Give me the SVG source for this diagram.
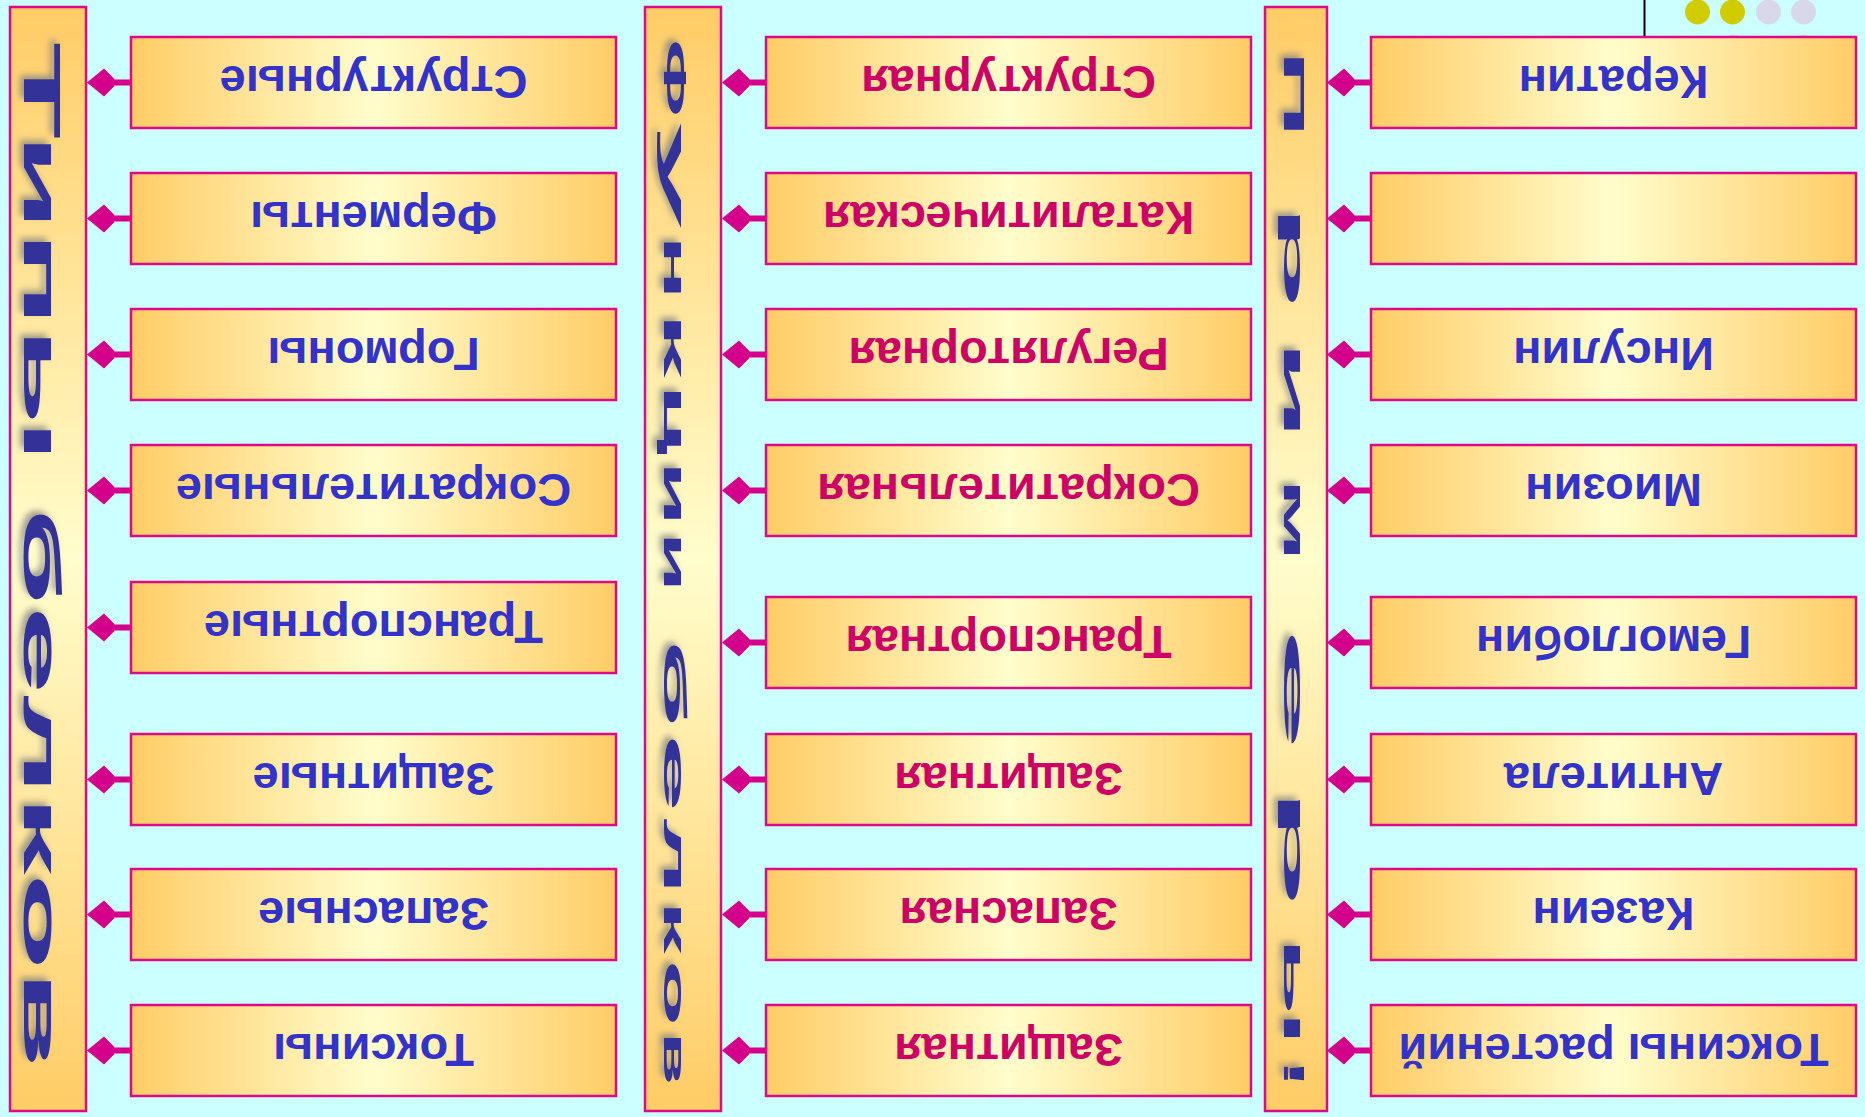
<svg xmlns="http://www.w3.org/2000/svg" width="1865" height="1117" viewBox="0 0 1865 1117">
<style>
.box{fill:url(#gh);stroke:#DD0A88;stroke-width:2.5}
.bar{fill:url(#gv);stroke:#DD0A88;stroke-width:2.5}
.t{font-family:"Liberation Sans",Arial,sans-serif;font-weight:bold;font-size:47px;text-anchor:middle}
.blue{fill:#3333CC}
.red{fill:#CC0066}
.vt{font-family:"Liberation Sans",Arial,sans-serif;font-weight:bold;fill:#333399}
.vm{font-size:32px}
.vr{font-size:30px}
.dia{fill:#D4008C}
</style>
<defs>
<linearGradient id="gh" x1="0" y1="0" x2="1" y2="0">
<stop offset="0" stop-color="#FFCC66"/>
<stop offset="0.5" stop-color="#FFFDCC"/>
<stop offset="1" stop-color="#FFCC66"/>
</linearGradient>
<linearGradient id="gv" x1="0" y1="0" x2="0" y2="1">
<stop offset="0" stop-color="#FFCC66"/>
<stop offset="0.5" stop-color="#FFFDCC"/>
<stop offset="1" stop-color="#FFCC66"/>
</linearGradient>
<filter id="sh" x="-0.5" y="-0.1" width="2" height="1.2">
<feDropShadow dx="-4" dy="-4" stdDeviation="3" flood-color="#7a7a7a" flood-opacity="0.7"/>
</filter>
<g id="dm"><path class="dia" d="M0,0 L17,-14 L28,-3 L27,-3 L27,3 L28,3 L17,14 Z"/></g>
</defs>
<rect width="1865" height="1117" fill="#CCFFFF"/>
<g id="decor">
<circle cx="1733" cy="47" r="12.5" fill="#D8D8EA"/>
<circle cx="1803" cy="47" r="12.5" fill="#D8D8EA"/>
<ellipse cx="1697.5" cy="12" rx="12.5" ry="12.5" fill="#D0CC00"/>
<ellipse cx="1732.5" cy="12" rx="12.5" ry="12.5" fill="#D0CC00"/>
<ellipse cx="1768.5" cy="12" rx="12.5" ry="12.5" fill="#D8D8EA"/>
<ellipse cx="1803.5" cy="12" rx="12.5" ry="12.5" fill="#D8D8EA"/>
<line x1="1644.5" y1="0" x2="1644.5" y2="37" stroke="#000" stroke-width="2"/>
</g>
<g id="bar-types">
<rect class="bar" x="10" y="7" width="76" height="1104"/>
<g filter="url(#sh)"><text class="vt" transform="translate(24,42) rotate(90)" x="0" y="0" font-size="52" textLength="1026" lengthAdjust="spacingAndGlyphs">Типы белков</text></g>
</g>
<g id="bar-functions">
<rect class="bar" x="645" y="7" width="76" height="1104"/>
<g filter="url(#sh)" class="vt vm">
<text transform="translate(664,39) rotate(90)" textLength="78" lengthAdjust="spacingAndGlyphs">Ф</text>
<text transform="translate(664,122) rotate(90)" textLength="107" lengthAdjust="spacingAndGlyphs">у</text>
<text transform="translate(664,235) rotate(90)" textLength="65" lengthAdjust="spacingAndGlyphs">н</text>
<text transform="translate(664,312) rotate(90)" textLength="66" lengthAdjust="spacingAndGlyphs">к</text>
<text transform="translate(664,384) rotate(90)" textLength="71" lengthAdjust="spacingAndGlyphs">ц</text>
<text transform="translate(664,461) rotate(90)" textLength="65" lengthAdjust="spacingAndGlyphs">и</text>
<text transform="translate(664,532) rotate(90)" textLength="60" lengthAdjust="spacingAndGlyphs">и</text>
<text transform="translate(664,639) rotate(90)" textLength="89" lengthAdjust="spacingAndGlyphs">б</text>
<text transform="translate(664,734) rotate(90)" textLength="78" lengthAdjust="spacingAndGlyphs">е</text>
<text transform="translate(664,818) rotate(90)" textLength="77" lengthAdjust="spacingAndGlyphs">л</text>
<text transform="translate(664,901) rotate(90)" textLength="53" lengthAdjust="spacingAndGlyphs">к</text>
<text transform="translate(664,960) rotate(90)" textLength="66" lengthAdjust="spacingAndGlyphs">о</text>
<text transform="translate(664,1032) rotate(90)" textLength="53" lengthAdjust="spacingAndGlyphs">в</text>
</g>
</g>
<g id="bar-examples">
<rect class="bar" x="1265" y="7" width="62" height="1104"/>
<g filter="url(#sh)" class="vt vr">
<text transform="translate(1284,50) rotate(90)" textLength="88" lengthAdjust="spacingAndGlyphs">П</text>
<text transform="translate(1284,204) rotate(90)" textLength="105" lengthAdjust="spacingAndGlyphs">р</text>
<text transform="translate(1284,339) rotate(90)" textLength="102" lengthAdjust="spacingAndGlyphs">и</text>
<text transform="translate(1284,478) rotate(90)" textLength="84" lengthAdjust="spacingAndGlyphs">м</text>
<text transform="translate(1284,627) rotate(90)" textLength="124" lengthAdjust="spacingAndGlyphs">е</text>
<text transform="translate(1284,787) rotate(90)" textLength="121" lengthAdjust="spacingAndGlyphs">р</text>
<text transform="translate(1284,937) rotate(90)" textLength="109" lengthAdjust="spacingAndGlyphs">ы</text>
<text transform="translate(1284,1058) rotate(90)" textLength="31" lengthAdjust="spacingAndGlyphs">!</text>
</g>
</g>
<g id="connectors">
<use href="#dm" x="87" y="82.5"/><rect class="dia" x="112" y="79.5" width="20" height="6"/>
<use href="#dm" x="87" y="218.5"/><rect class="dia" x="112" y="215.5" width="20" height="6"/>
<use href="#dm" x="87" y="354.5"/><rect class="dia" x="112" y="351.5" width="20" height="6"/>
<use href="#dm" x="87" y="490.5"/><rect class="dia" x="112" y="487.5" width="20" height="6"/>
<use href="#dm" x="87" y="627.5"/><rect class="dia" x="112" y="624.5" width="20" height="6"/>
<use href="#dm" x="87" y="779.5"/><rect class="dia" x="112" y="776.5" width="20" height="6"/>
<use href="#dm" x="87" y="914.5"/><rect class="dia" x="112" y="911.5" width="20" height="6"/>
<use href="#dm" x="87" y="1050.5"/><rect class="dia" x="112" y="1047.5" width="20" height="6"/>
<use href="#dm" x="722" y="82.5"/><rect class="dia" x="747" y="79.5" width="20" height="6"/>
<use href="#dm" x="722" y="218.5"/><rect class="dia" x="747" y="215.5" width="20" height="6"/>
<use href="#dm" x="722" y="354.5"/><rect class="dia" x="747" y="351.5" width="20" height="6"/>
<use href="#dm" x="722" y="490.5"/><rect class="dia" x="747" y="487.5" width="20" height="6"/>
<use href="#dm" x="722" y="642.5"/><rect class="dia" x="747" y="639.5" width="20" height="6"/>
<use href="#dm" x="722" y="779.5"/><rect class="dia" x="747" y="776.5" width="20" height="6"/>
<use href="#dm" x="722" y="914.5"/><rect class="dia" x="747" y="911.5" width="20" height="6"/>
<use href="#dm" x="722" y="1050.5"/><rect class="dia" x="747" y="1047.5" width="20" height="6"/>
<use href="#dm" x="1327" y="82.5"/><rect class="dia" x="1352" y="79.5" width="20" height="6"/>
<use href="#dm" x="1327" y="218.5"/><rect class="dia" x="1352" y="215.5" width="20" height="6"/>
<use href="#dm" x="1327" y="354.5"/><rect class="dia" x="1352" y="351.5" width="20" height="6"/>
<use href="#dm" x="1327" y="490.5"/><rect class="dia" x="1352" y="487.5" width="20" height="6"/>
<use href="#dm" x="1327" y="642.5"/><rect class="dia" x="1352" y="639.5" width="20" height="6"/>
<use href="#dm" x="1327" y="779.5"/><rect class="dia" x="1352" y="776.5" width="20" height="6"/>
<use href="#dm" x="1327" y="914.5"/><rect class="dia" x="1352" y="911.5" width="20" height="6"/>
<use href="#dm" x="1327" y="1050.5"/><rect class="dia" x="1352" y="1047.5" width="20" height="6"/>
</g>
<g id="type-1"><rect class="box" x="131" y="37" width="485" height="91"/><text class="t blue" x="373.5" y="99.5" transform="rotate(180 373.5 82.5)">Структурные</text></g>
<g id="type-2"><rect class="box" x="131" y="173" width="485" height="91"/><text class="t blue" x="373.5" y="235.5" transform="rotate(180 373.5 218.5)">Ферменты</text></g>
<g id="type-3"><rect class="box" x="131" y="309" width="485" height="91"/><text class="t blue" x="373.5" y="371.5" transform="rotate(180 373.5 354.5)">Гормоны</text></g>
<g id="type-4"><rect class="box" x="131" y="445" width="485" height="91"/><text class="t blue" x="373.5" y="507.5" transform="rotate(180 373.5 490.5)">Сократительные</text></g>
<g id="type-5"><rect class="box" x="131" y="582" width="485" height="91"/><text class="t blue" x="373.5" y="644.5" transform="rotate(180 373.5 627.5)">Транспортные</text></g>
<g id="type-6"><rect class="box" x="131" y="734" width="485" height="91"/><text class="t blue" x="373.5" y="796.5" transform="rotate(180 373.5 779.5)">Защитные</text></g>
<g id="type-7"><rect class="box" x="131" y="869" width="485" height="91"/><text class="t blue" x="373.5" y="931.5" transform="rotate(180 373.5 914.5)">Запасные</text></g>
<g id="type-8"><rect class="box" x="131" y="1005" width="485" height="91"/><text class="t blue" x="373.5" y="1067.5" transform="rotate(180 373.5 1050.5)">Токсины</text></g>
<g id="func-1"><rect class="box" x="766" y="37" width="485" height="91"/><text class="t red" x="1008.5" y="99.5" transform="rotate(180 1008.5 82.5)">Структурная</text></g>
<g id="func-2"><rect class="box" x="766" y="173" width="485" height="91"/><text class="t red" x="1008.5" y="235.5" transform="rotate(180 1008.5 218.5)">Каталитическая</text></g>
<g id="func-3"><rect class="box" x="766" y="309" width="485" height="91"/><text class="t red" x="1008.5" y="371.5" transform="rotate(180 1008.5 354.5)">Регуляторная</text></g>
<g id="func-4"><rect class="box" x="766" y="445" width="485" height="91"/><text class="t red" x="1008.5" y="507.5" transform="rotate(180 1008.5 490.5)">Сократительная</text></g>
<g id="func-5"><rect class="box" x="766" y="597" width="485" height="91"/><text class="t red" x="1008.5" y="659.5" transform="rotate(180 1008.5 642.5)">Транспортная</text></g>
<g id="func-6"><rect class="box" x="766" y="734" width="485" height="91"/><text class="t red" x="1008.5" y="796.5" transform="rotate(180 1008.5 779.5)">Защитная</text></g>
<g id="func-7"><rect class="box" x="766" y="869" width="485" height="91"/><text class="t red" x="1008.5" y="931.5" transform="rotate(180 1008.5 914.5)">Запасная</text></g>
<g id="func-8"><rect class="box" x="766" y="1005" width="485" height="91"/><text class="t red" x="1008.5" y="1067.5" transform="rotate(180 1008.5 1050.5)">Защитная</text></g>
<g id="ex-1"><rect class="box" x="1371" y="37" width="485" height="91"/><text class="t blue" x="1613.5" y="99.5" transform="rotate(180 1613.5 82.5)">Кератин</text></g>
<g id="ex-2"><rect class="box" x="1371" y="173" width="485" height="91"/></g>
<g id="ex-3"><rect class="box" x="1371" y="309" width="485" height="91"/><text class="t blue" x="1613.5" y="371.5" transform="rotate(180 1613.5 354.5)">Инсулин</text></g>
<g id="ex-4"><rect class="box" x="1371" y="445" width="485" height="91"/><text class="t blue" x="1613.5" y="507.5" transform="rotate(180 1613.5 490.5)">Миозин</text></g>
<g id="ex-5"><rect class="box" x="1371" y="597" width="485" height="91"/><text class="t blue" x="1613.5" y="659.5" transform="rotate(180 1613.5 642.5)">Гемоглобин</text></g>
<g id="ex-6"><rect class="box" x="1371" y="734" width="485" height="91"/><text class="t blue" x="1613.5" y="796.5" transform="rotate(180 1613.5 779.5)">Антитела</text></g>
<g id="ex-7"><rect class="box" x="1371" y="869" width="485" height="91"/><text class="t blue" x="1613.5" y="931.5" transform="rotate(180 1613.5 914.5)">Казеин</text></g>
<g id="ex-8"><rect class="box" x="1371" y="1005" width="485" height="91"/><text class="t blue" x="1613.5" y="1067.5" transform="rotate(180 1613.5 1050.5)">Токсины растений</text></g>
</svg>
